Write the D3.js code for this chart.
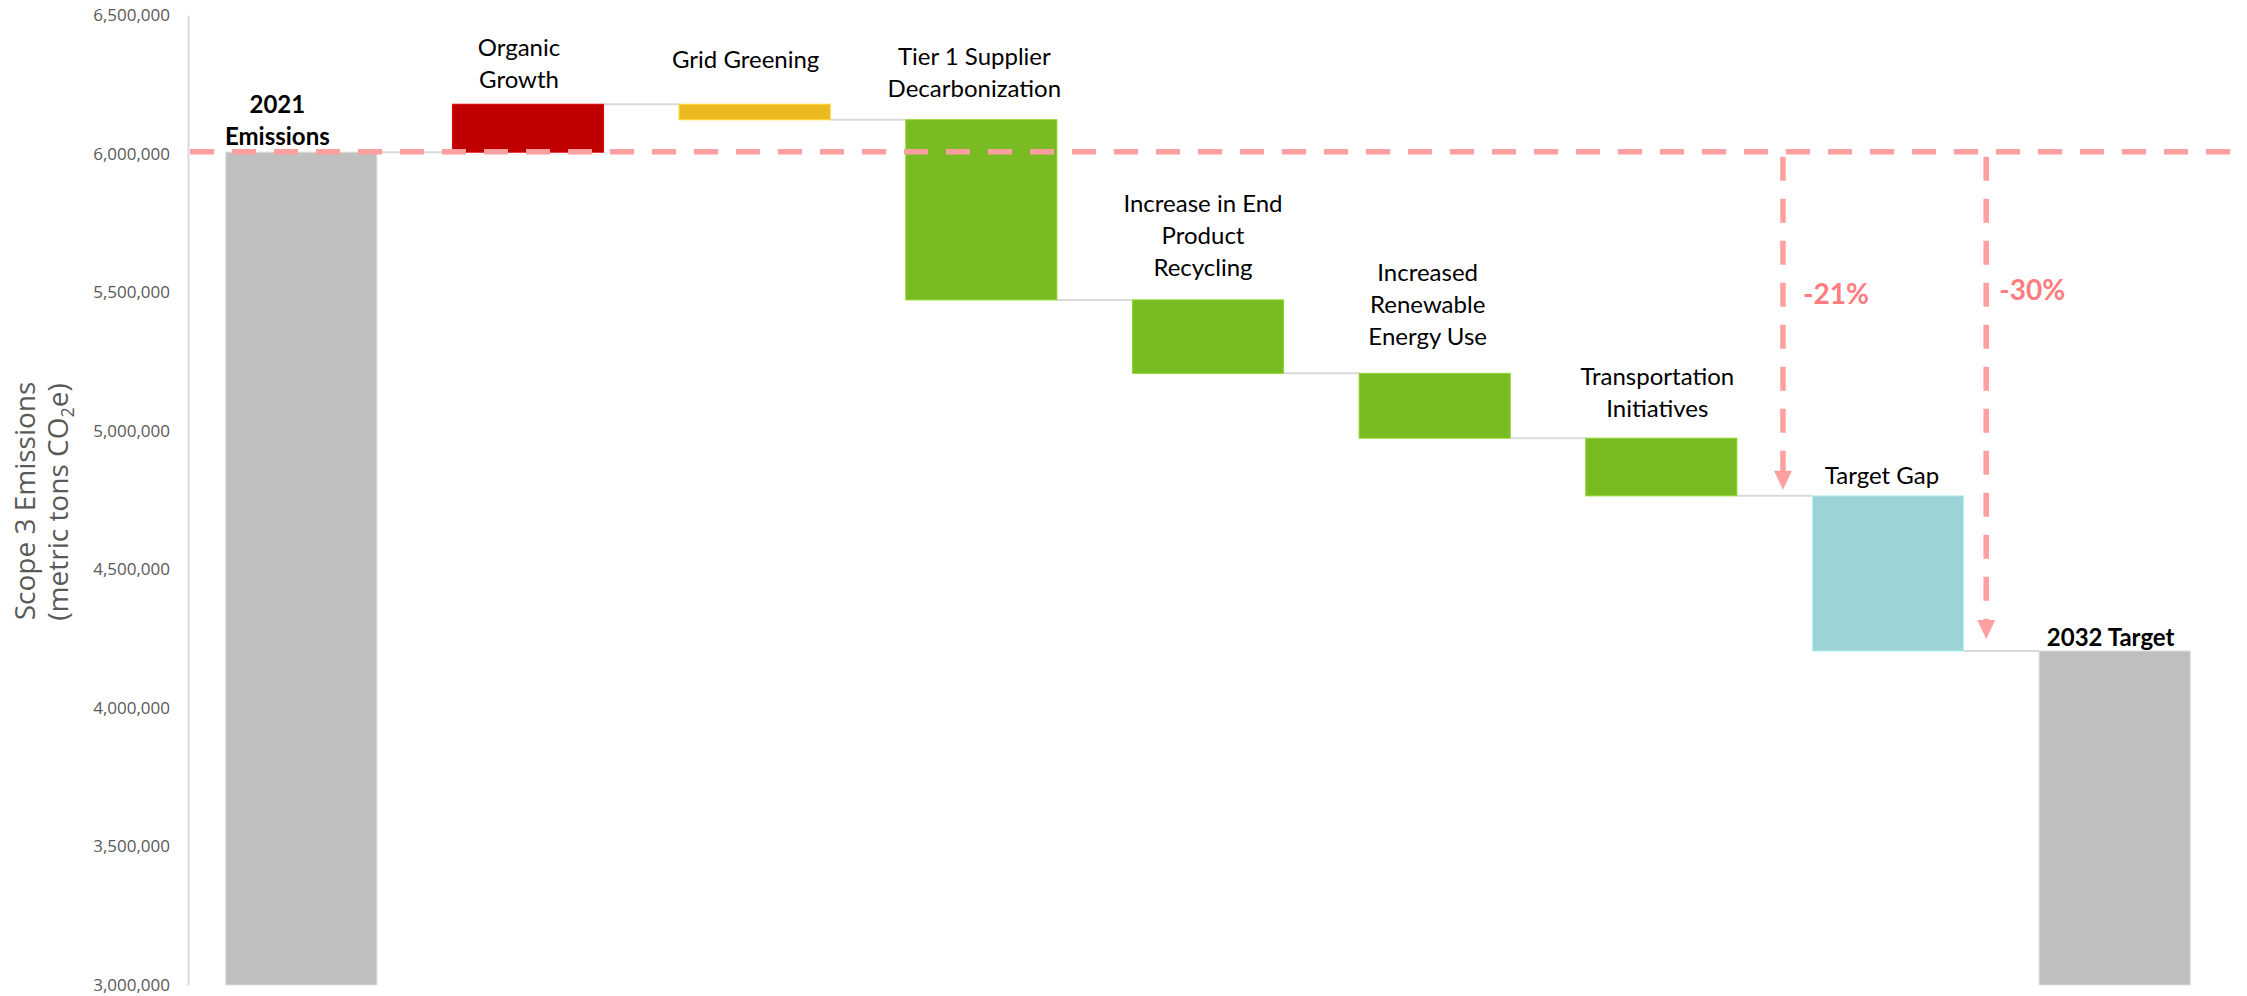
<!DOCTYPE html>
<html>
<head>
<meta charset="utf-8">
<script src="https://cdn.jsdelivr.net/npm/d3@7"></script>
<style>
  html, body { margin: 0; padding: 0; background: #ffffff; }
  svg { display: block; }
</style>
</head>
<body>
<svg id="chart" width="2247" height="996"></svg>
<script>
// ---- data ----
const categories = [
  "2021 Emissions", "Organic Growth", "Grid Greening",
  "Tier 1 Supplier Decarbonization", "Increase in End Product Recycling",
  "Increased Renewable Energy Use", "Transportation Initiatives",
  "Target Gap", "2032 Target"
];
const labelLines = [
  ["2021", "Emissions"], ["Organic", "Growth"], ["Grid Greening"],
  ["Tier 1 Supplier", "Decarbonization"], ["Increase in End", "Product", "Recycling"],
  ["Increased", "Renewable", "Energy Use"], ["Transportation", "Initiatives"],
  ["Target Gap"], ["2032 Target"]
];
// "total" bars start at the axis floor, the others float on the running level
const kinds = ["total", "step", "step", "step", "step", "step", "step", "step", "total"];
// metric tons CO2e (totals) and changes (steps)
const values = [6005000, 173000, -56000, -650000, -265000, -234000, -208000, -560000, 4205000];
const yTicks = [3000000, 3500000, 4000000, 4500000, 5000000, 5500000, 6000000, 6500000];
const yDomain = [3000000, 6500000];
// reductions against the 2021 baseline, measured at the end of these bars
const reductionAt = ["Transportation Initiatives", "2032 Target"];

// ---- styles ----
const barColors = ["#bfbfbf", "#c00000", "#ecb921", "#78bb22", "#78bb22", "#78bb22", "#78bb22", "#9dd3d5", "#bfbfbf"];
const boldLabel = [true, false, false, false, false, false, false, false, true];
const labelDx = [-24, -9, -9, -7, -5, -7, -4, -6, -4];
const labelGap = [7, 16, 36, 23, 24, 28, 21, 12, 5];
// each arrow sits in the gap after (0) or before (-1) its bar, at a fraction of that gap
const arrowGap = [0, -1];
const arrowFrac = [0.61, 0.30];
const arrowLift = [6, 12];
const pctY = [304, 300];
const pctDx = [20, 13];
const baselineColor = "#ff9f9f";
const pctColor = "#ff7c80";

const svg = d3.select("#chart");

// ---- scales ----
const x = d3.scaleBand().domain(categories).range([188, 2228])
  .paddingInner(1 / 3).paddingOuter(1 / 6);
const y = d3.scaleLinear().domain(yDomain).range([985, 15]);

// running levels of the waterfall
let level = 0;
const bars = categories.map((c, i) => {
  let lo, hi, end;
  if (kinds[i] === "total") {
    lo = yDomain[0]; hi = values[i]; end = values[i];
  } else {
    const start = level; end = level + values[i];
    lo = Math.min(start, end); hi = Math.max(start, end);
  }
  level = end;
  return { c, i, lo, hi, end };
});
const baseline = values[0];

// ---- axis ----
const axis = d3.axisLeft(y).tickValues(yTicks).tickSize(0).tickSizeOuter(0)
  .tickPadding(18).tickFormat(d3.format(","));
const gAxis = svg.append("g").attr("transform", "translate(188,0)").call(axis);
gAxis.select(".domain").attr("stroke", "#d9d9d9").attr("stroke-width", 2);
gAxis.selectAll(".tick text")
  .attr("font-family", "'Open Sans', sans-serif").attr("font-size", 17)
  .attr("fill", "#595959");

// axis title
const title = svg.append("g").attr("font-family", "'Open Sans', sans-serif")
  .attr("font-size", 28).attr("fill", "#595959").attr("text-anchor", "middle");
title.append("text").attr("transform", "translate(35,501) rotate(-90)")
  .text("Scope 3 Emissions");
const t2 = title.append("text").attr("transform", "translate(68,502) rotate(-90)");
t2.append("tspan").text("(metric tons CO");
t2.append("tspan").attr("font-size", 18).attr("dy", 6).text("2");
t2.append("tspan").attr("dy", -6).text("e)");

// ---- connectors ----
svg.append("g").selectAll("line").data(bars.slice(0, -1)).join("line")
  .attr("x1", d => x(d.c) + x.bandwidth())
  .attr("x2", d => x(categories[d.i + 1]))
  .attr("y1", d => y(d.end)).attr("y2", d => y(d.end))
  .attr("stroke", "#d9d9d9").attr("stroke-width", 2);

// ---- bars ----
svg.append("g").selectAll("rect").data(bars).join("rect")
  .attr("x", d => x(d.c)).attr("width", x.bandwidth())
  .attr("y", d => y(d.hi)).attr("height", d => y(d.lo) - y(d.hi))
  .attr("fill", d => barColors[d.i])
  .attr("stroke", d => d3.color(barColors[d.i]).brighter(0.4))
  .attr("stroke-width", 1);

// ---- bar labels ----
const gLab = svg.append("g").attr("font-family", "Lato, sans-serif")
  .attr("font-size", 24).attr("fill", "#000").attr("text-anchor", "middle");
bars.forEach(d => {
  const lines = labelLines[d.i];
  const cx = x(d.c) + x.bandwidth() / 2 + labelDx[d.i];
  const lastBase = y(d.hi) - labelGap[d.i];
  const t = gLab.append("text").attr("font-weight", boldLabel[d.i] ? 700 : 400);
  lines.forEach((ln, k) => {
    t.append("tspan").attr("x", cx)
      .attr("y", lastBase - (lines.length - 1 - k) * 32).text(ln);
  });
});

// ---- baseline reference line ----
const yBase = y(baseline) - 0.5;
svg.append("line")
  .attr("x1", 190).attr("x2", 2232)
  .attr("y1", yBase).attr("y2", yBase)
  .attr("stroke", baselineColor).attr("stroke-width", 5.5)
  .attr("stroke-dasharray", "24 18");

// ---- reduction arrows ----
const pct = d3.format(".0%");
const gapW = x.step() - x.bandwidth();
reductionAt.forEach((c, k) => {
  const idx = categories.indexOf(c);
  const b = bars[idx];
  const left = categories[idx + arrowGap[k]];
  const ax = x(left) + x.bandwidth() + arrowFrac[k] * gapW;
  const tip = y(b.end) - arrowLift[k];
  const top = yBase + 5;
  const head = 19;
  svg.append("line").attr("x1", ax).attr("x2", ax)
    .attr("y1", top).attr("y2", tip - head + 2)
    .attr("stroke", baselineColor).attr("stroke-width", 5.5)
    .attr("stroke-dasharray", "24 18");
  svg.append("path")
    .attr("d", `M${ax - 9},${tip - head}L${ax + 9},${tip - head}L${ax},${tip}Z`)
    .attr("fill", baselineColor);
  svg.append("text").attr("x", ax + pctDx[k]).attr("y", pctY[k])
    .attr("font-family", "Lato, sans-serif").attr("font-size", 28)
    .attr("font-weight", 700).attr("fill", pctColor)
    .text(pct(b.end / baseline - 1).replace("\u2212", "-"));
});
</script>
</body>
</html>
